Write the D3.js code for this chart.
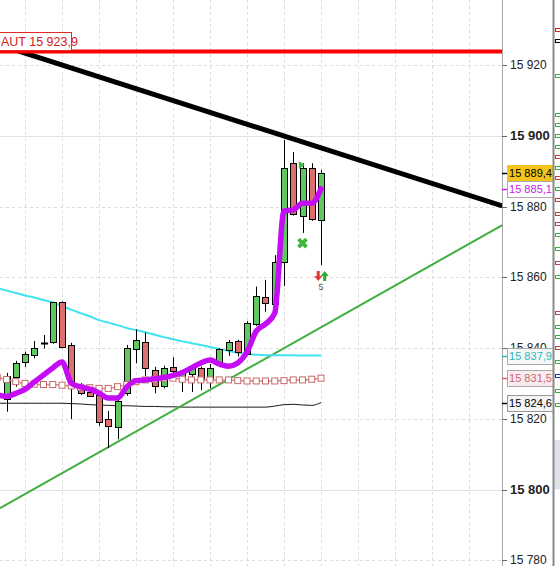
<!DOCTYPE html>
<html><head><meta charset="utf-8">
<script src="https://cdn.jsdelivr.net/npm/d3@7"></script>
<style>html,body{margin:0;padding:0;background:#fff;overflow:hidden}</style>
</head><body>
<svg id="c" width="560" height="566"></svg>
<script>
// ---------------- DATA ----------------
const candleIdx = d3.range(0, 35);
const candleOpen  = [15825.6,15831.6,15835.9,15837.8,15841.4,15841.8,15853.0,15840.9,15828.6,15827.7,15826.7,15819.9,15817.8,15827.5,15839.7,15841.6,15833.7,15829.3,15834.7,15831.5,15832.7,15834.3,15831.0,15835.9,15839.3,15842.1,15838.5,15846.8,15854.4,15852.5,15864.2,15892.3,15877.4,15890.9,15876.0];
const candleHigh  = [15833.0,15836.4,15839.0,15842.0,15843.7,15853.1,15853.2,15841.5,15830.1,15828.1,15827.0,15822.2,15825.5,15840.9,15845.3,15844.4,15834.7,15835.0,15837.4,15833.5,15835.2,15834.8,15835.5,15840.0,15842.3,15842.4,15847.6,15857.4,15859.3,15866.3,15898.9,15895.5,15892.3,15892.3,15890.4];
const candleLow   = [15822.0,15829.1,15834.7,15837.1,15839.9,15841.2,15840.0,15819.9,15826.7,15826.2,15818.0,15811.7,15814.2,15826.5,15835.7,15832.1,15827.2,15828.6,15832.9,15827.6,15827.6,15828.1,15828.7,15835.2,15837.8,15837.6,15838.0,15846.3,15850.3,15852.0,15857.6,15877.5,15872.6,15876.0,15863.5];
const candleClose = [15832.2,15835.7,15838.2,15839.9,15841.5,15853.0,15840.2,15830.0,15827.2,15826.5,15819.2,15818.0,15825.1,15840.1,15842.3,15834.3,15829.3,15834.3,15833.6,15833.0,15834.7,15831.0,15834.4,15839.7,15841.7,15839.0,15847.2,15854.7,15852.7,15864.3,15890.9,15877.9,15890.9,15876.4,15889.4];

// indicator lines: index -1 .. 34
const lineIdx = d3.range(-1, 35);
const cyanMA = [15856.9,15856.3,15855.6,15854.9,15854.3,15853.6,15852.9,15851.9,15850.9,15849.9,15849.0,15847.9,15847.2,15846.5,15845.7,15845.1,15844.5,15843.8,15843.1,15842.5,15841.9,15841.4,15840.9,15840.3,15839.7,15839.2,15838.7,15838.3,15838.1,15838.0,15838.0,15838.0,15837.95,15837.9,15837.9,15837.9];
const magentaMA = [15826.9,15826.3,15827.2,15828.3,15830.4,15832.4,15834.4,15836.1,15830.1,15829.0,15828.4,15827.3,15825.9,15825.9,15829.0,15830.8,15831.0,15831.3,15831.7,15832.3,15833.1,15834.4,15835.8,15836.6,15835.5,15834.9,15835.8,15838.9,15844.8,15846.8,15849.9,15878.8,15879.1,15881.0,15881.0,15885.1];
const pinkMA = [15831.7,15831.1,15830.5,15830.0,15829.8,15829.7,15829.7,15829.5,15829.3,15828.9,15828.8,15828.6,15828.6,15829.1,15829.7,15830.5,15831.0,15831.2,15831.5,15831.5,15831.2,15831.0,15831.0,15831.0,15831.0,15831.0,15830.8,15830.7,15830.7,15830.7,15830.7,15830.8,15831.0,15831.0,15831.2,15831.5];
const blackMA = [15824.4,15824.4,15824.4,15824.4,15824.4,15824.4,15824.4,15824.4,15824.3,15824.2,15824.0,15823.9,15823.8,15823.7,15823.7,15823.6,15823.5,15823.5,15823.4,15823.4,15823.3,15823.3,15823.3,15823.3,15823.3,15823.3,15823.3,15823.3,15823.3,15823.3,15823.6,15824.0,15824.1,15823.9,15823.8,15824.6];

// trend lines (index, value)
const trendIdx = [-0.7, 53.6];
const blackTrend = [15925.7, 15880.2];
const greenTrend = [15794.7, 15874.8];
const redLevel = 15923.9;
const redLevelLabel = "AUT 15 923,9";

// axis ticks
const yTicks = [15780, 15800, 15820, 15840, 15860, 15880, 15900, 15920];
const boldTicks = [15800, 15900];

// last-value boxes
const lastValues = [15889.4, 15885.1, 15837.9, 15831.5, 15824.6];
const lastValueFill   = ["#f4c41a", "#ffffff", "#f4f8f8", "#f8ecee", "#f4f4f4"];
const lastValueText   = ["#000000", "#c21ee6", "#2fb5b5", "#d0646f", "#000000"];
const lastValueStroke = ["#f4c41a", "#aaaaaa", "#aaaaaa", "#aaaaaa", "#999999"];

// signals
const crossIdx = 32, crossVal = 15869.7;
const triIdx = 31.6, triVal = 15891.8;
const arrowDownIdx = 33.7, arrowUpIdx = 34.4, arrowVal = 15860.4;
const countLabel = "5", countIdx = 34, countVal = 15857.0;

// right side strip marks (value, colour)
const stripVals = [15930, 15927, 15917, 15906, 15903, 15900, 15897, 15894, 15891, 15888, 15885, 15882, 15878, 15875, 15872, 15868, 15864, 15860, 15850, 15846, 15843, 15840, 15836, 15832, 15828, 15824];
const stripCols = ["#e02020","#000","#3cb043","#3cb043","#3cb043","#3cb043","#3cb043","#c04040","#3cb043","#c04040","#3cb043","#c04040","#c04040","#c04040","#3cb043","#3cb043","#c04040","#3cb043","#c04040","#3cb043","#3cb043","#c04040","#3cb043","#2030c0","#3cb043","#3cb043"];

// ---------------- DRAW ----------------
const svg = d3.select("#c");
const plotW = 502;
const x = d3.scaleLinear().domain([0, 34]).range([6.5, 321]);
const y = d3.scaleLinear().domain([15800, 15900]).range([489.5, 136]);
const fmt = d3.formatLocale({decimal: ",", thousands: " ", grouping: [3]});
const fInt = fmt.format(",.0f"), f1 = fmt.format(",.1f");
const FONT = "Liberation Sans, Arial, sans-serif";

svg.append("defs").append("clipPath").attr("id", "clip")
  .append("rect").attr("x", 0).attr("y", 0).attr("width", plotW).attr("height", 566);
const g = svg.append("g").attr("clip-path", "url(#clip)");

// grid
g.selectAll(".vg").data(d3.range(2, 58, 4)).enter().append("line")
  .attr("x1", d => Math.round(x(d)) + 0.5).attr("x2", d => Math.round(x(d)) + 0.5)
  .attr("y1", 0).attr("y2", 566)
  .attr("stroke", "#dcdcdc").attr("stroke-dasharray", "3,3");
g.selectAll(".hg").data(yTicks).enter().append("line")
  .attr("x1", 0).attr("x2", plotW)
  .attr("y1", d => Math.round(y(d)) + 0.5).attr("y2", d => Math.round(y(d)) + 0.5)
  .attr("stroke", d => boldTicks.includes(d) ? "#e2e2e2" : "#dcdcdc")
  .attr("stroke-dasharray", d => boldTicks.includes(d) ? null : "3,3");

// thin black MA
const lineGen = vals => d3.line().x((d, i) => x(lineIdx[i])).y(d => y(d)).curve(d3.curveMonotoneX)(vals);
g.append("path").attr("d", lineGen(blackMA)).attr("fill", "none").attr("stroke", "#1a1a1a").attr("stroke-width", 1);

// green trend line
g.append("line").attr("x1", x(trendIdx[0])).attr("y1", y(greenTrend[0]))
  .attr("x2", x(trendIdx[1])).attr("y2", y(greenTrend[1]))
  .attr("stroke", "#3fae3f").attr("stroke-width", 2);

// cyan MA
g.append("path").attr("d", lineGen(cyanMA)).attr("fill", "none").attr("stroke", "#3fe3f2").attr("stroke-width", 2);

// candles
const cg = g.append("g");
candleIdx.forEach(i => {
  const o = candleOpen[i], c = candleClose[i], h = candleHigh[i], l = candleLow[i];
  const cx = Math.round(x(i)) + 0.5;
  cg.append("line").attr("x1", cx).attr("x2", cx).attr("y1", y(h)).attr("y2", y(l)).attr("stroke", "#000").attr("stroke-width", 1);
  const top = y(Math.max(o, c)), bot = y(Math.min(o, c));
  if (bot - top < 1.5) {
    cg.append("line").attr("x1", cx - 3.5).attr("x2", cx + 3.5).attr("y1", Math.round(top) + 0.5).attr("y2", Math.round(top) + 0.5).attr("stroke", "#000").attr("stroke-width", 2);
  } else {
    cg.append("rect").attr("x", cx - 3).attr("y", Math.round(top) + 0.5).attr("width", 6).attr("height", Math.max(1, Math.round(bot - top)))
      .attr("fill", c >= o ? "#5ec95e" : "#dc6e6e").attr("stroke", "#000").attr("stroke-width", 1);
  }
});

// pink MA with hollow squares
g.append("path").attr("d", lineGen(pinkMA)).attr("fill", "none").attr("stroke", "#d98a8a").attr("stroke-width", 1.5);
g.selectAll(".sq").data(pinkMA).enter().append("rect")
  .attr("x", (d, i) => x(lineIdx[i]) - 3).attr("y", d => y(d) - 3)
  .attr("width", 6).attr("height", 6)
  .attr("fill", "#fff").attr("stroke", "#c86a6a").attr("stroke-width", 1);

// magenta MA
g.append("path").attr("d", lineGen(magentaMA)).attr("fill", "none").attr("stroke", "#c40cf5")
  .attr("stroke-width", 5.5).attr("stroke-linecap", "round").attr("stroke-linejoin", "round");

// black trend
g.append("line").attr("x1", x(trendIdx[0])).attr("y1", y(blackTrend[0]))
  .attr("x2", x(trendIdx[1])).attr("y2", y(blackTrend[1]))
  .attr("stroke", "#000").attr("stroke-width", 5);

// red level
g.append("line").attr("x1", 0).attr("x2", plotW).attr("y1", y(redLevel)).attr("y2", y(redLevel))
  .attr("stroke", "#ff0000").attr("stroke-width", 4);

// signals
svg.append("path").attr("d", d3.symbol().type(d3.symbolCross).size(70)())
  .attr("transform", `translate(${x(crossIdx)},${y(crossVal)}) rotate(45)`).attr("fill", "#3db83d");
svg.append("path").attr("d", "M0,-4L6,0L0,4Z")
  .attr("transform", `translate(${x(triIdx)},${y(triVal)})`).attr("fill", "#3cc03c");
svg.append("path").attr("d", "M-1.5,-5L1.5,-5L1.5,0L4,0L0,5L-4,0L-1.5,0Z")
  .attr("transform", `translate(${x(arrowDownIdx)},${y(arrowVal)})`).attr("fill", "#e03a3a");
svg.append("path").attr("d", "M-1.5,5L1.5,5L1.5,0L4,0L0,-5L-4,0L-1.5,0Z")
  .attr("transform", `translate(${x(arrowUpIdx)},${y(arrowVal)})`).attr("fill", "#2eae2e");
svg.append("text").attr("x", x(countIdx)).attr("y", y(countVal)).attr("text-anchor", "middle")
  .attr("dominant-baseline", "middle").attr("font-family", FONT)
  .attr("font-size", 9).attr("fill", "#555").text(countLabel);

// red level label
const lab = svg.append("g");
lab.append("rect").attr("x", -1.5).attr("y", Math.round(y(redLevel)) - 19.5).attr("width", 73).attr("height", 18)
  .attr("fill", "#fff").attr("stroke", "#e02a2a").attr("stroke-width", 1);
lab.append("text").attr("x", 1).attr("y", Math.round(y(redLevel)) - 6.5)
  .attr("font-family", FONT).attr("font-size", 12.5)
  .attr("fill", "#d42020").text(redLevelLabel);

// axis
svg.append("line").attr("x1", plotW + 0.5).attr("x2", plotW + 0.5).attr("y1", 0).attr("y2", 566).attr("stroke", "#a8a8a8");
const ax = svg.append("g");
yTicks.forEach(t => {
  const yy = Math.round(y(t)) + 0.5;
  ax.append("line").attr("x1", plotW).attr("x2", plotW + 5).attr("y1", yy).attr("y2", yy).attr("stroke", "#666");
  ax.append("text").attr("x", 510).attr("y", yy).attr("dominant-baseline", "middle")
    .attr("font-family", FONT)
    .attr("font-size", boldTicks.includes(t) ? 13 : 12)
    .attr("font-weight", boldTicks.includes(t) ? "bold" : "normal")
    .attr("fill", "#222").text(fInt(t));
});

// last value boxes
lastValues.forEach((v, k) => {
  const yy = Math.round(y(v)) + 0.5;
  ax.append("line").attr("x1", plotW).attr("x2", plotW + 5).attr("y1", yy).attr("y2", yy).attr("stroke", lastValueText[k]).attr("stroke-width", 1.5);
  ax.append("rect").attr("x", 507.5).attr("y", yy - 8).attr("width", 46).attr("height", 16)
    .attr("fill", lastValueFill[k]).attr("stroke", lastValueStroke[k]);
  ax.append("text").attr("x", 530.5).attr("y", yy + 0.5).attr("dominant-baseline", "middle")
    .attr("text-anchor", "middle")
    .attr("font-family", FONT).attr("font-size", 11.5).attr("textLength", 43).attr("lengthAdjust", "spacingAndGlyphs")
    .attr("fill", lastValueText[k]).text(f1(v));
});

// right strip
svg.append("rect").attr("x", 554).attr("y", y(15814)).attr("width", 6).attr("height", y(15800) - y(15814)).attr("fill", "#dde1e8");
stripVals.forEach((v, k) => {
  svg.append("rect").attr("x", 555.5).attr("y", Math.round(y(v)) - 1.5).attr("width", 5).attr("height", 3)
    .attr("fill", "none").attr("stroke", stripCols[k]).attr("stroke-width", 1);
});
svg.append("line").attr("x1", 553.5).attr("x2", 553.5).attr("y1", 0).attr("y2", 566).attr("stroke", "#8a8a8a").attr("stroke-width", 2);
</script></body></html>
